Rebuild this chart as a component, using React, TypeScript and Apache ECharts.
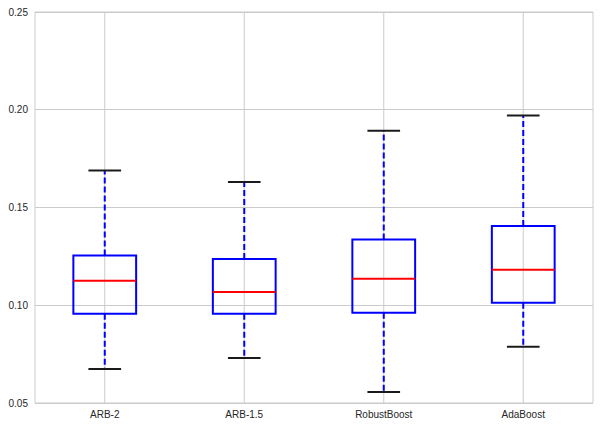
import React, { useEffect, useRef } from "react";
import * as echarts from "echarts";

const categories = ["ARB-2", "ARB-1.5", "RobustBoost", "AdaBoost"];
const lowerWhisker = [0.0674, 0.073, 0.0556, 0.0788];
const q1 = [0.0957, 0.0957, 0.0962, 0.1013];
const median = [0.1125, 0.1068, 0.1136, 0.1181];
const q3 = [0.1254, 0.1237, 0.1336, 0.1406];
const upperWhisker = [0.1689, 0.1631, 0.1892, 0.1971];
const yTicks = [0.05, 0.1, 0.15, 0.2, 0.25];

export default function App() {
  const ref = useRef<HTMLDivElement>(null);
  useEffect(() => {
    if (!ref.current) return;
    const chart = echarts.init(ref.current, null, { renderer: "svg" });
    const data = categories.map((_, i) => [
      i,
      lowerWhisker[i],
      q1[i],
      median[i],
      q3[i],
      upperWhisker[i],
    ]);
    const font = "'Liberation Sans', Arial, sans-serif";
    chart.setOption({
      animation: false,
      grid: {
        left: 35,
        right: 7,
        top: 12,
        bottom: 24,
        show: true,
        borderColor: "#cbcbcb",
        borderWidth: 1,
        backgroundColor: "#ffffff",
      },
      xAxis: {
        type: "category",
        data: categories,
        boundaryGap: true,
        axisLine: { show: false },
        axisTick: { show: false },
        splitLine: { show: false },
        axisLabel: {
          color: "#262626",
          fontSize: 10,
          fontFamily: font,
          margin: 6,
        },
      },
      yAxis: {
        type: "value",
        min: yTicks[0],
        max: yTicks[yTicks.length - 1],
        interval: 0.05,
        axisLine: { show: false },
        axisTick: { show: false },
        splitLine: { show: true, lineStyle: { color: "#cbcbcb", width: 1 } },
        axisLabel: {
          color: "#262626",
          fontSize: 10,
          fontFamily: font,
          margin: 7,
          formatter: (v: number) => v.toFixed(2),
        },
      },
      series: [
        {
          type: "custom",
          data,
          clip: false,
          renderItem: (params: any, api: any) => {
            const idx = api.value(0);
            const lo = api.coord([idx, api.value(1)]);
            const b1 = api.coord([idx, api.value(2)]);
            const med = api.coord([idx, api.value(3)]);
            const b3 = api.coord([idx, api.value(4)]);
            const hi = api.coord([idx, api.value(5)]);
            const bandW = api.size([1, 0])[0];
            const boxW = bandW * 0.45;
            const capW = boxW * 0.52;
            const cx = lo[0];
            const cs = params.coordSys;
            const blue = "#0000ff";
            return {
              type: "group",
              children: [
                {
                  type: "line",
                  shape: { x1: cx, y1: cs.y, x2: cx, y2: cs.y + cs.height },
                  style: { stroke: "#cbcbcb", lineWidth: 1 },
                },
                {
                  type: "line",
                  shape: { x1: cx, y1: b3[1], x2: cx, y2: hi[1] },
                  style: { stroke: blue, lineWidth: 2, lineDash: [6, 3] },
                },
                {
                  type: "line",
                  shape: { x1: cx, y1: b1[1], x2: cx, y2: lo[1] },
                  style: { stroke: blue, lineWidth: 2, lineDash: [6, 3] },
                },
                {
                  type: "line",
                  shape: { x1: cx - capW / 2, y1: hi[1], x2: cx + capW / 2, y2: hi[1] },
                  style: { stroke: "#1a1a1a", lineWidth: 2 },
                },
                {
                  type: "line",
                  shape: { x1: cx - capW / 2, y1: lo[1], x2: cx + capW / 2, y2: lo[1] },
                  style: { stroke: "#1a1a1a", lineWidth: 2 },
                },
                {
                  type: "rect",
                  shape: { x: cx - boxW / 2, y: b3[1], width: boxW, height: b1[1] - b3[1] },
                  style: { stroke: blue, lineWidth: 2, fill: "none" },
                },
                {
                  type: "line",
                  shape: { x1: cx - boxW / 2, y1: med[1], x2: cx + boxW / 2, y2: med[1] },
                  style: { stroke: "#ff0000", lineWidth: 2 },
                },
              ],
            };
          },
        },
      ],
    });
    return () => chart.dispose();
  }, []);
  return <div ref={ref} style={{ width: 600, height: 427, position: "absolute", left: 0, top: 0 }} />;
}
